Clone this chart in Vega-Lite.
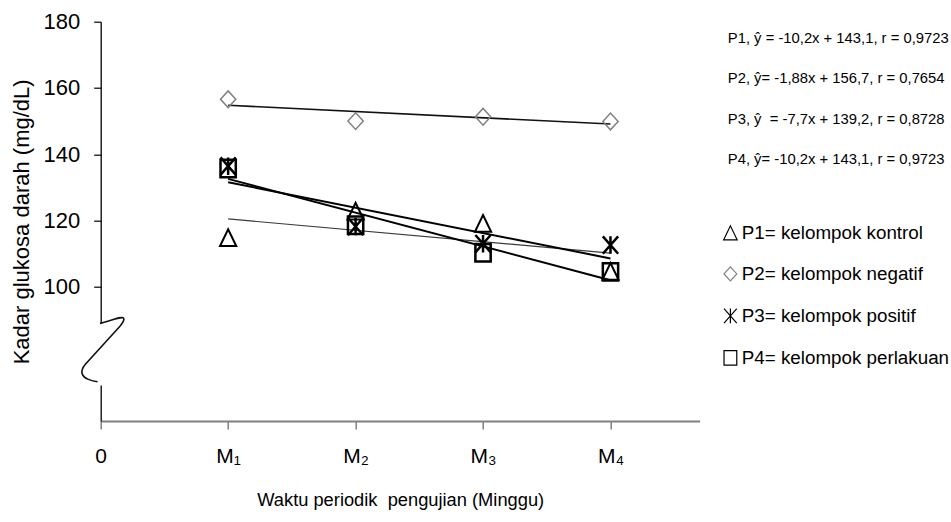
{
  "$schema": "https://vega.github.io/schema/vega-lite/v6.json",
  "width": 599,
  "height": 399.3,
  "autosize": {"type": "none"},
  "padding": {"left": 100.7, "top": 21.7, "right": 251.3, "bottom": 101},
  "background": "white",
  "config": {
    "view": {"stroke": null},
    "font": "Liberation Sans",
    "axis": {"grid": false}
  },
  "data": {
    "values": [
      {"kelompok": "P1= kelompok kontrol", "persamaan": "P1, ŷ = -10,2x + 143,1, r = 0,9723", "minggu": 1, "kadar": 114.8},
      {"kelompok": "P1= kelompok kontrol", "persamaan": "P1, ŷ = -10,2x + 143,1, r = 0,9723", "minggu": 2, "kadar": 122.8},
      {"kelompok": "P1= kelompok kontrol", "persamaan": "P1, ŷ = -10,2x + 143,1, r = 0,9723", "minggu": 3, "kadar": 119.1},
      {"kelompok": "P1= kelompok kontrol", "persamaan": "P1, ŷ = -10,2x + 143,1, r = 0,9723", "minggu": 4, "kadar": 104.6},
      {"kelompok": "P2= kelompok negatif", "persamaan": "P2, ŷ= -1,88x + 156,7, r = 0,7654", "minggu": 1, "kadar": 156.6},
      {"kelompok": "P2= kelompok negatif", "persamaan": "P2, ŷ= -1,88x + 156,7, r = 0,7654", "minggu": 2, "kadar": 150.0},
      {"kelompok": "P2= kelompok negatif", "persamaan": "P2, ŷ= -1,88x + 156,7, r = 0,7654", "minggu": 3, "kadar": 151.3},
      {"kelompok": "P2= kelompok negatif", "persamaan": "P2, ŷ= -1,88x + 156,7, r = 0,7654", "minggu": 4, "kadar": 149.9},
      {"kelompok": "P3= kelompok positif", "persamaan": "P3, ŷ\u00a0 = -7,7x + 139,2, r = 0,8728", "minggu": 1, "kadar": 136.4},
      {"kelompok": "P3= kelompok positif", "persamaan": "P3, ŷ\u00a0 = -7,7x + 139,2, r = 0,8728", "minggu": 2, "kadar": 118.2},
      {"kelompok": "P3= kelompok positif", "persamaan": "P3, ŷ\u00a0 = -7,7x + 139,2, r = 0,8728", "minggu": 3, "kadar": 113.0},
      {"kelompok": "P3= kelompok positif", "persamaan": "P3, ŷ\u00a0 = -7,7x + 139,2, r = 0,8728", "minggu": 4, "kadar": 112.6},
      {"kelompok": "P4= kelompok perlakuan", "persamaan": "P4, ŷ= -10,2x + 143,1, r = 0,9723", "minggu": 1, "kadar": 135.7},
      {"kelompok": "P4= kelompok perlakuan", "persamaan": "P4, ŷ= -10,2x + 143,1, r = 0,9723", "minggu": 2, "kadar": 118.6},
      {"kelompok": "P4= kelompok perlakuan", "persamaan": "P4, ŷ= -10,2x + 143,1, r = 0,9723", "minggu": 3, "kadar": 110.3},
      {"kelompok": "P4= kelompok perlakuan", "persamaan": "P4, ŷ= -10,2x + 143,1, r = 0,9723", "minggu": 4, "kadar": 104.5}
    ]
  },
  "layer": [
    {
      "data": {"values": [{}]},
      "mark": {
        "type": "point",
        "shape": "M-0.02,-0.82 C0.25,-0.88 0.62,-1.05 0.66,-0.96 C0.68,-0.9 0.6,-0.8 0.55,-0.74 L-0.45,0.36 C-0.6,0.55 -0.55,0.7 -0.35,0.78 C-0.25,0.82 -0.15,0.84 -0.09,0.85",
        "size": 4900,
        "filled": false,
        "stroke": "#111111",
        "strokeWidth": 1.6,
        "opacity": 1
      },
      "encoding": {
        "x": {"datum": 0, "type": "quantitative"},
        "y": {"datum": 80.3, "type": "quantitative"}
      }
    },
    {
      "transform": [
        {"regression": "kadar", "on": "minggu", "groupby": ["persamaan"], "extent": [1, 4]}
      ],
      "mark": {"type": "line"},
      "encoding": {
        "x": {
          "field": "minggu",
          "type": "quantitative",
          "scale": {"domain": [0, 4.7], "nice": false, "zero": false},
          "axis": {
            "values": [0, 1, 2, 3, 4],
            "labelExpr": "datum.value == 0 ? '0' : datum.value == 1 ? 'M₁' : datum.value == 2 ? 'M₂' : datum.value == 3 ? 'M₃' : 'M₄'",
            "title": "Waktu periodik\u00a0 pengujian (Minggu)",
            "titleFontSize": 18.3,
            "titleFontWeight": "normal",
            "titleColor": "#000000",
            "titleY": 84,
            "titleBaseline": "alphabetic",
            "labelFontSize": 21,
            "labelColor": "#000000",
            "labelBaseline": "alphabetic",
            "labelPadding": 33,
            "labelFlush": false,
            "labelOverlap": false,
            "tickSize": 8,
            "tickColor": "#808080",
            "tickWidth": 1.5,
            "domainColor": "#808080",
            "domainWidth": 2
          }
        },
        "y": {
          "field": "kadar",
          "type": "quantitative",
          "scale": {"domain": [59.5, 180], "nice": false, "zero": false},
          "axis": {
            "values": [100, 120, 140, 160, 180],
            "title": "Kadar glukosa darah (mg/dL)",
            "titleFontSize": 22,
            "titleFontWeight": "normal",
            "titleColor": "#000000",
            "titleX": -72.3,
            "titleBaseline": "alphabetic",
            "labelFontSize": 22,
            "labelColor": "#000000",
            "labelPadding": 14,
            "labelFlush": false,
            "labelOverlap": false,
            "tickSize": 7,
            "tickColor": "#000000",
            "tickWidth": 1.2,
            "domainColor": "#000000",
            "domainWidth": 1.3,
            "domainDash": [36, 61.7, 400]
          }
        },
        "color": {
          "field": "persamaan",
          "type": "nominal",
          "scale": {"range": ["#3a3a3a", "#111111", "#000000", "#000000"]},
          "legend": {
            "title": null,
            "orient": "none",
            "legendX": 612.3,
            "legendY": 10,
            "padding": 0,
            "labelFontSize": 14.8,
            "labelColor": "#000000",
            "labelLimit": 400,
            "labelOffset": 0,
            "symbolSize": 0,
            "symbolOpacity": 0,
            "symbolStrokeWidth": 0,
            "rowPadding": 24.2
          }
        },
        "strokeWidth": {
          "field": "persamaan",
          "type": "ordinal",
          "scale": {"type": "ordinal", "range": [1.2, 1.6, 2, 2]},
          "legend": null
        }
      }
    },
    {
      "mark": {"type": "point", "filled": false, "size": 324, "opacity": 1},
      "encoding": {
        "x": {"field": "minggu", "type": "quantitative"},
        "y": {"field": "kadar", "type": "quantitative"},
        "shape": {
          "field": "kelompok",
          "type": "nominal",
          "scale": {
            "range": [
              "M-0.9,0.92L0.9,0.92L0,-0.95Z",
              "M-0.85,0L0,-0.93L0.85,0L0,0.93Z",
              "M-0.85,-0.97L0.85,0.97M-0.85,0.97L0.85,-0.97M0,-0.97L0,0.97",
              "M-0.85,-0.97L0.85,-0.97L0.85,0.97L-0.85,0.97Z"
            ]
          },
          "legend": {
            "title": null,
            "orient": "none",
            "legendX": 620.3,
            "legendY": 201.8,
            "padding": 0,
            "labelFontSize": 18.8,
            "labelColor": "#000000",
            "labelLimit": 400,
            "labelOffset": 2,
            "symbolSize": 225,
            "symbolStrokeWidth": 1.2,
            "rowPadding": 21
          }
        },
        "stroke": {
          "field": "kelompok",
          "type": "nominal",
          "scale": {"range": ["#000000", "#808080", "#000000", "#000000"]},
          "legend": {
            "title": null,
            "orient": "none",
            "legendX": 620.3,
            "legendY": 201.8,
            "padding": 0,
            "labelFontSize": 18.8,
            "labelColor": "#000000",
            "labelLimit": 400,
            "labelOffset": 2,
            "symbolSize": 225,
            "symbolStrokeWidth": 1.2,
            "rowPadding": 21
          }
        },
        "strokeWidth": {
          "field": "kelompok",
          "type": "ordinal",
          "scale": {"type": "ordinal", "range": [2, 1.5, 2.5, 2.5]},
          "legend": null
        }
      }
    }
  ],
  "resolve": {"scale": {"strokeWidth": "independent"}}
}
